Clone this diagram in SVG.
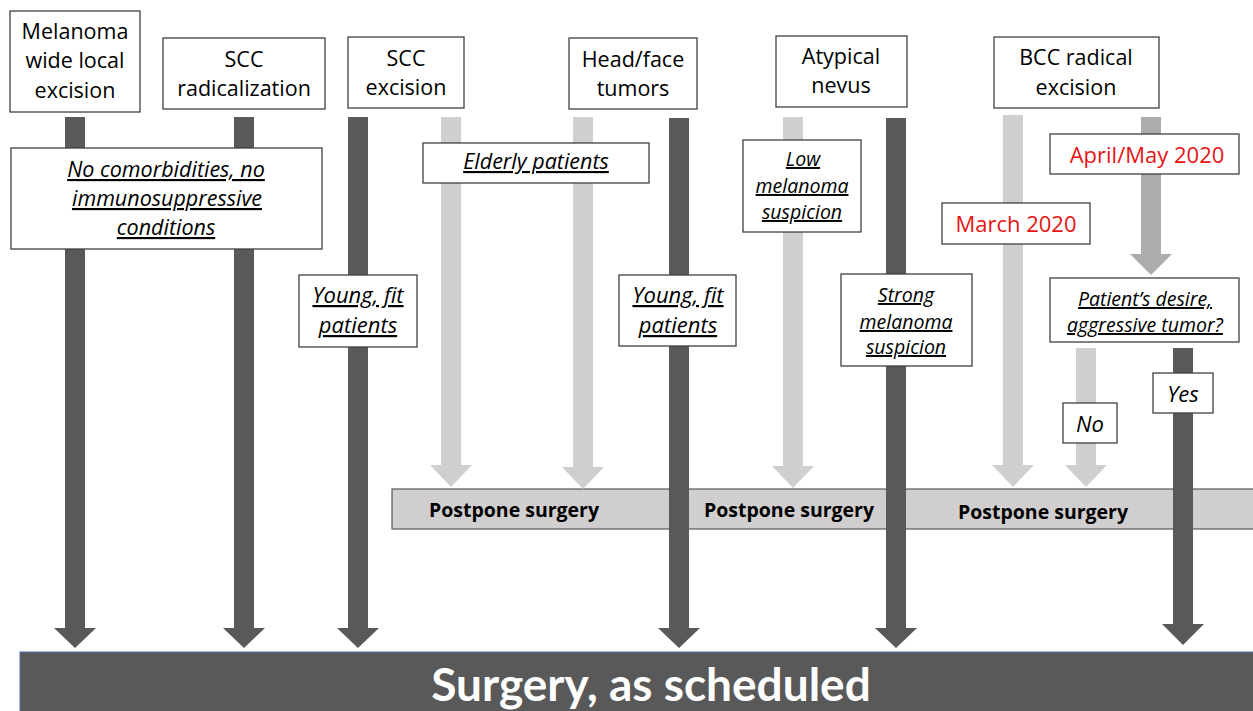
<svg xmlns="http://www.w3.org/2000/svg" width="1253" height="711" viewBox="0 0 1253 711">
<style>
.box{fill:#fff;stroke:#404040;stroke-width:1.3}
.hd{font-family:"Open Sans",Lato,sans-serif;font-size:21.5px;fill:#000;text-anchor:middle}
.it{font-family:"Open Sans",Lato,sans-serif;font-style:italic;font-size:21.5px;fill:#000;text-anchor:middle;text-decoration:underline}
.sm{font-size:19.5px}
.lg{font-size:22px}
.red{font-family:"Open Sans",Lato,sans-serif;font-size:22px;fill:#e81414;text-anchor:middle}
.yn{font-family:"Open Sans",Lato,sans-serif;font-style:italic;font-size:22px;fill:#000;text-anchor:middle}
.pp{font-family:"Open Sans",Lato,sans-serif;font-weight:bold;font-size:19.5px;fill:#000;text-anchor:middle}
.dark{fill:#595959}
.light{fill:#d0cece}
.mid{fill:#aeabab}
</style>
<rect width="1253" height="711" fill="#fff"/>

<g id="postpone-bar">
<rect x="392" y="489" width="870" height="40" fill="#d0cece" stroke="#595959" stroke-width="1.2"/>
<text class="pp" x="514" y="517">Postpone surgery</text>
<text class="pp" x="789" y="517">Postpone surgery</text>
<text class="pp" x="1043" y="519">Postpone surgery</text>
</g>

<g id="surgery-bar">
<rect x="20" y="652" width="1240" height="65" fill="#595959" stroke="#4a6fa5" stroke-width="1"/>
<text x="651" y="701" font-family="Lato,'Open Sans',sans-serif" font-weight="bold" font-size="46" fill="#fff" text-anchor="middle">Surgery, as scheduled</text>
</g>

<g id="connectors">
<path class="light" d="M441,117H461V465H472L451,487L430,465H441Z"/>
<path class="light" d="M573,117H593V467H604L583,489L562,467H573Z"/>
<path class="light" d="M783,117H803V466H814L793,488L772,466H783Z"/>
<path class="light" d="M1003,115H1023V465H1034L1013,487L992,465H1003Z"/>
<path class="light" d="M1076,348H1096V465H1107L1086,487L1065,465H1076Z"/>
<path class="mid" d="M1141,117H1161V254H1172L1151,275L1130,254H1141Z"/>
<path class="dark" d="M65,117H85V628H96L75,648L54,628H65Z"/>
<path class="dark" d="M234,117H254V628H265L244,648L223,628H234Z"/>
<path class="dark" d="M348,117H368V628H379L358,648L337,628H348Z"/>
<path class="dark" d="M669,118H689V628H700L679,648L658,628H669Z"/>
<path class="dark" d="M886,118H906V628H917L896,648L875,628H886Z"/>
<path class="dark" d="M1173,348H1193V624H1204L1183,645L1162,624H1173Z"/>
</g>

<g id="melanoma-wle">
<rect class="box" x="10" y="11" width="130" height="101"/>
<text class="hd" x="75" y="39">Melanoma</text>
<text class="hd" x="75" y="68">wide local</text>
<text class="hd" x="75" y="98">excision</text>
</g>
<g id="scc-radicalization">
<rect class="box" x="163" y="38" width="162" height="71"/>
<text class="hd" x="244" y="67">SCC</text>
<text class="hd" x="244" y="96">radicalization</text>
</g>
<g id="scc-excision">
<rect class="box" x="348" y="37" width="116" height="71"/>
<text class="hd" x="406" y="66">SCC</text>
<text class="hd" x="406" y="95">excision</text>
</g>
<g id="head-face">
<rect class="box" x="569" y="38" width="128" height="71"/>
<text class="hd" x="633" y="67">Head/face</text>
<text class="hd" x="633" y="96">tumors</text>
</g>
<g id="atypical-nevus">
<rect class="box" x="776" y="36" width="131" height="71"/>
<text class="hd" x="841" y="64">Atypical</text>
<text class="hd" x="841" y="93">nevus</text>
</g>
<g id="bcc-radical">
<rect class="box" x="994" y="37" width="165" height="71"/>
<text class="hd" x="1076" y="65">BCC radical</text>
<text class="hd" x="1076" y="95">excision</text>
</g>

<g id="no-comorbidities">
<rect class="box" x="11" y="148" width="311" height="101"/>
<text class="it" x="166" y="177">No comorbidities, no</text>
<text class="it" x="167" y="206">immunosuppressive</text>
<text class="it" x="166" y="235">conditions</text>
</g>
<g id="elderly">
<rect class="box" x="423" y="143" width="226" height="40"/>
<text class="it" x="536" y="169">Elderly patients</text>
</g>
<g id="low-suspicion">
<rect class="box" x="743" y="140" width="118" height="92"/>
<text class="it sm" x="803" y="166">Low</text>
<text class="it sm" x="802" y="193">melanoma</text>
<text class="it sm" x="802" y="219">suspicion</text>
</g>
<g id="april-may">
<rect class="box" x="1050" y="134" width="189" height="40"/>
<text class="red" x="1147" y="163">April/May 2020</text>
</g>
<g id="march">
<rect class="box" x="942" y="203" width="148" height="41"/>
<text class="red" x="1016" y="232">March 2020</text>
</g>
<g id="young-fit-1">
<rect class="box" x="299" y="275" width="118" height="72"/>
<text class="it lg" x="358" y="303">Young, fit</text>
<text class="it lg" x="358" y="333">patients</text>
</g>
<g id="young-fit-2">
<rect class="box" x="619" y="275" width="117" height="71"/>
<text class="it lg" x="678" y="303">Young, fit</text>
<text class="it lg" x="678" y="333">patients</text>
</g>
<g id="strong-suspicion">
<rect class="box" x="841" y="274" width="131" height="92"/>
<text class="it sm" x="906" y="302">Strong</text>
<text class="it sm" x="906" y="329">melanoma</text>
<text class="it sm" x="906" y="354">suspicion</text>
</g>
<g id="patient-desire">
<rect class="box" x="1050" y="278" width="189" height="64"/>
<text class="it sm" x="1145" y="306">Patient’s desire,</text>
<text class="it sm" x="1145" y="332">aggressive tumor?</text>
</g>
<g id="no">
<rect class="box" x="1063" y="403" width="54" height="40"/>
<text class="yn" x="1090" y="432">No</text>
</g>
<g id="yes">
<rect class="box" x="1153" y="373" width="60" height="40"/>
<text class="yn" x="1183" y="402">Yes</text>
</g>
</svg>
